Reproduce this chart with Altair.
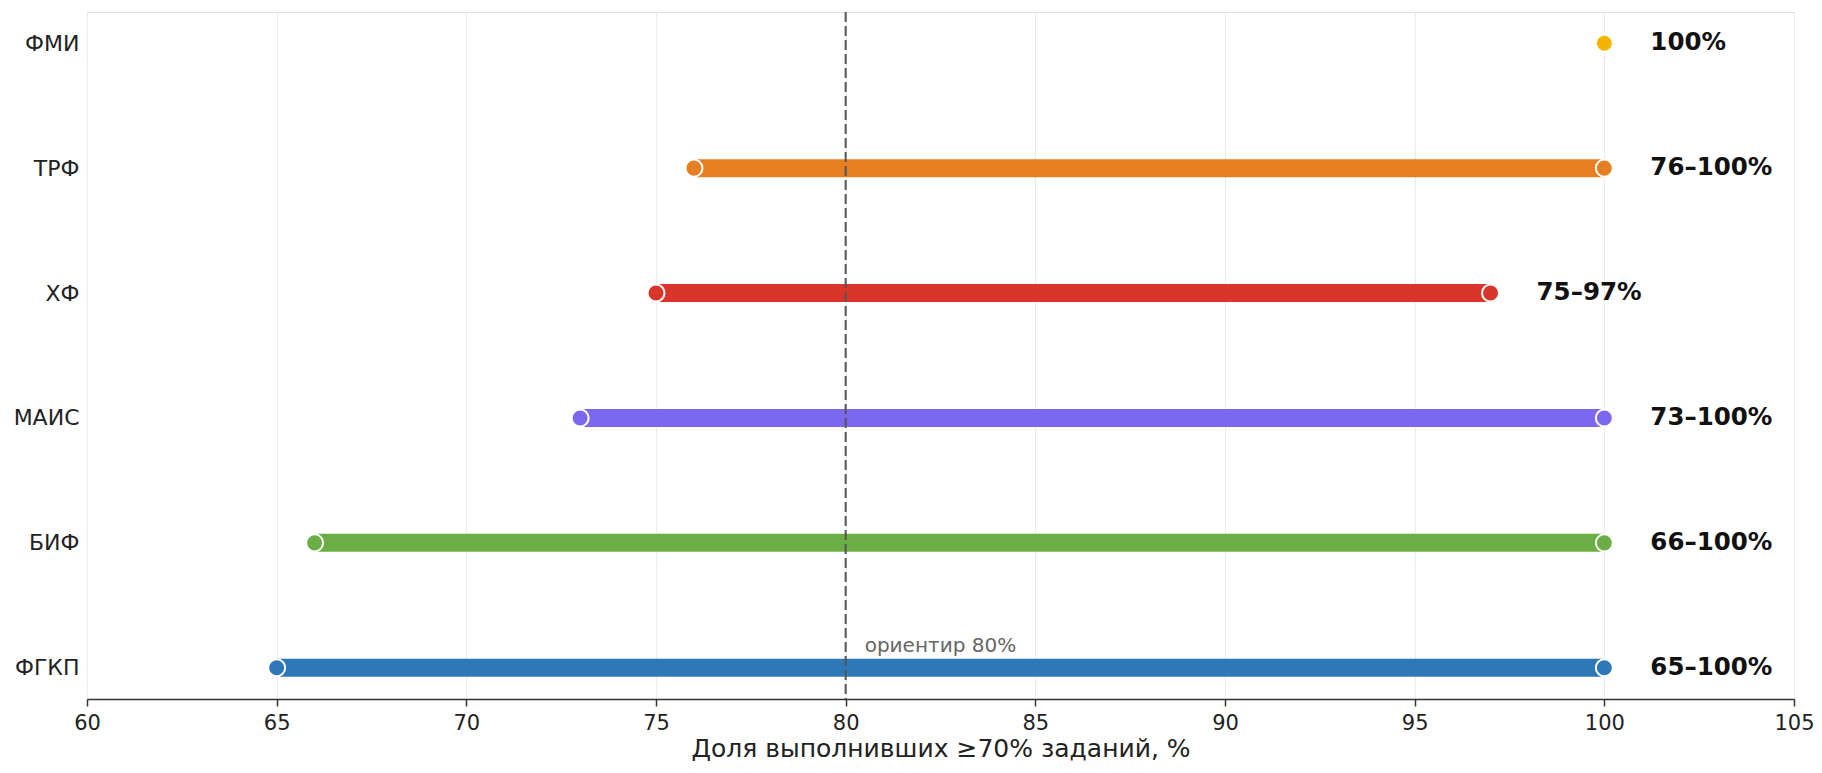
import altair as alt
import pandas as pd

categories = ["ФМИ", "ТРФ", "ХФ", "МАИС", "БИФ", "ФГКП"]
min_vals = [100, 76, 75, 73, 66, 65]
max_vals = [100, 100, 97, 100, 100, 100]
labels = ["100%", "76–100%", "75–97%", "73–100%", "66–100%", "65–100%"]
colors = ["#F4B400", "#E67E22", "#D9352B", "#7B68EE", "#6BAE45", "#2F78B7"]
ref_value = [80]
ref_label = ["ориентир 80%"]
x_ticks = [60, 65, 70, 75, 80, 85, 90, 95, 100, 105]

df = pd.DataFrame({"cat": categories, "lo": min_vals, "hi": max_vals,
                   "label": labels, "color": colors})
pts = pd.concat([
    pd.DataFrame({"cat": categories, "v": min_vals, "color": colors}),
    pd.DataFrame({"cat": categories, "v": max_vals, "color": colors}),
])
ref = pd.DataFrame({"v": ref_value, "label": ref_label, "cat": [categories[-1]]})

FONT = "DejaVu Sans"
xscale = alt.Scale(domain=[60, 105], nice=False, zero=False)
yscale = alt.Scale(type="point", domain=categories, padding=0.25)

xenc = alt.X("lo:Q", scale=xscale,
             axis=alt.Axis(title="Доля выполнивших ≥70% заданий, %", values=x_ticks,
                           grid=True, gridColor="#ebebeb", gridWidth=1,
                           domainColor="#333333", domainWidth=1.5,
                           tickColor="#333333", tickSize=7, tickWidth=1.5,
                           labelFont=FONT, labelFontSize=21, labelColor="#222222",
                           labelPadding=6, labelFlush=False, labelOverlap=False,
                           titleFont=FONT, titleFontSize=25,
                           titleFontWeight="normal", titleColor="#222222",
                           titlePadding=3, format="d"))
yenc = alt.Y("cat:N", scale=yscale, sort=categories,
             axis=alt.Axis(title=None, grid=False, domain=False, ticks=False,
                           labelFont=FONT, labelFontSize=22, labelColor="#222222",
                           labelPadding=8))

bars = alt.Chart(df).mark_rule(strokeWidth=18, strokeCap="butt").encode(
    x=xenc, x2="hi:Q", y=yenc,
    color=alt.Color("color:N", scale=None))

refline = alt.Chart(ref).mark_rule(color="#555555", strokeWidth=2,
                                   strokeDash=[10, 4]).encode(
    x=alt.X("v:Q", scale=xscale), y=alt.value(0), y2=alt.value(687))

reftext = alt.Chart(ref).mark_text(align="left", baseline="alphabetic", dx=19, dy=-16,
                                   font=FONT, fontSize=20, color="#666666").encode(
    x=alt.X("v:Q", scale=xscale), y=alt.Y("cat:N", scale=yscale), text="label:N")

points = alt.Chart(pts).mark_point(filled=True, shape="circle", size=290,
                                   stroke="white", strokeWidth=2, opacity=1).encode(
    x=alt.X("v:Q", scale=xscale), y=alt.Y("cat:N", scale=yscale),
    fill=alt.Fill("color:N", scale=None))

texts = alt.Chart(df).mark_text(align="left", baseline="middle", dx=46,
                                font=FONT, fontSize=24.5, fontWeight="bold",
                                color="#111111").encode(
    x=alt.X("hi:Q", scale=xscale), y=alt.Y("cat:N", scale=yscale), text="label:N")

chart = alt.layer(bars, refline, reftext, points, texts).properties(
    width=1707, height=687,
    autosize=alt.AutoSizeParams(type="none"),
    padding={"left": 79, "top": 4, "right": 20, "bottom": 66},
).configure_view(stroke=None).configure(background="white")

chart.save("out.html", embed_options={"renderer": "svg", "actions": False})
